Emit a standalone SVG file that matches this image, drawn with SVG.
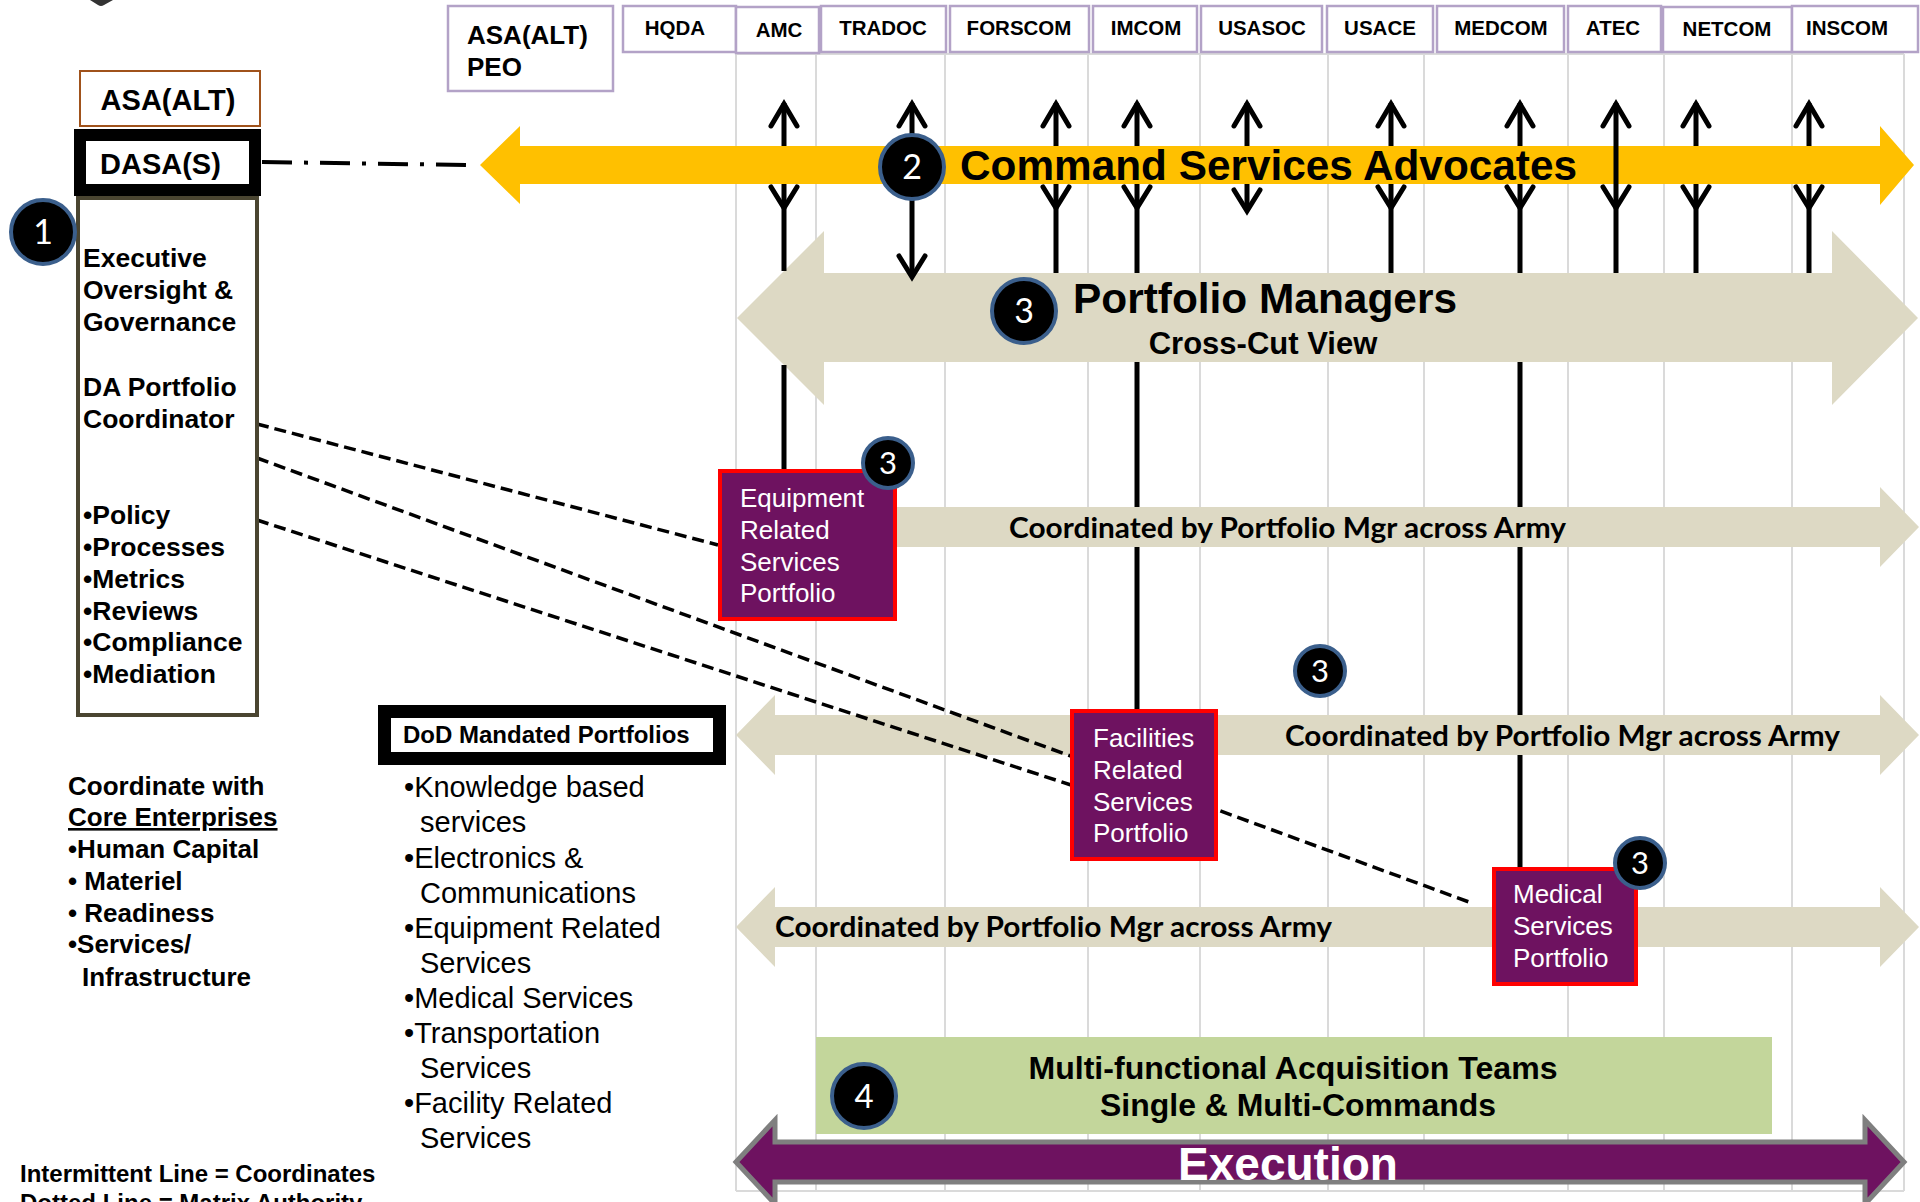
<svg xmlns="http://www.w3.org/2000/svg" width="1920" height="1202" viewBox="0 0 1920 1202">
<style>
.hdr{fill:#fff;stroke:#B3A2C7;stroke-width:2.5}
.hl{font-family:"Liberation Sans",Arial,sans-serif;font-weight:bold;font-size:20.5px;fill:#000;text-anchor:middle}
.b{font-family:"Liberation Sans",Arial,sans-serif;font-weight:bold;fill:#000}
.r{font-family:"Liberation Sans",Arial,sans-serif;fill:#000}
.w{font-family:"Liberation Sans",Arial,sans-serif;fill:#fff;font-size:26px}
.cal{font-family:Lato,"Open Sans",sans-serif;font-weight:bold;font-size:28px;fill:#000}
.grid{stroke:#DADADA;stroke-width:2;fill:none}
.beige{fill:#DDD9C4}
.vl{stroke:#000;stroke-width:5;fill:none}
.vh{stroke:#000;stroke-width:5;fill:none;stroke-linejoin:miter;stroke-linecap:round}
.dash{stroke:#000;stroke-width:3.5;stroke-dasharray:12 6;fill:none}
.pbox{fill:#6E1260;stroke:#FF0000;stroke-width:4}
.cb{fill:#000;stroke:#3B5F8C;stroke-width:4}
.cn{font-family:Lato,"Open Sans",sans-serif;fill:#fff;text-anchor:middle}
</style>
<rect x="0" y="0" width="1920" height="1202" fill="#fff"/>
<path d="M90,0 L113,0 L104,5 Q101,7 98,5 Z" fill="#333"/>

<g id="grid">
<line class="grid" x1="736" y1="54" x2="1904" y2="54"/>
<line class="grid" x1="736" y1="1191" x2="1904" y2="1191"/>
<line class="grid" x1="736" y1="54" x2="736" y2="1191"/>
<line class="grid" x1="816" y1="54" x2="816" y2="1191"/>
<line class="grid" x1="945" y1="54" x2="945" y2="1191"/>
<line class="grid" x1="1088" y1="54" x2="1088" y2="1191"/>
<line class="grid" x1="1200" y1="54" x2="1200" y2="1191"/>
<line class="grid" x1="1328" y1="54" x2="1328" y2="1191"/>
<line class="grid" x1="1424" y1="54" x2="1424" y2="1191"/>
<line class="grid" x1="1568" y1="54" x2="1568" y2="1191"/>
<line class="grid" x1="1664" y1="54" x2="1664" y2="1191"/>
<line class="grid" x1="1792" y1="54" x2="1792" y2="1191"/>
<line class="grid" x1="1904" y1="54" x2="1904" y2="1191"/>
</g>

<g id="headers">
<g id="h-peo"><rect class="hdr" x="448" y="6" width="165" height="85"/><text class="b" x="467" y="44" font-size="26">ASA(ALT)</text><text class="b" x="467" y="76" font-size="26">PEO</text></g>
<g id="h-hqda"><rect class="hdr" x="623" y="6" width="113" height="46"/><text class="hl" x="675" y="35">HQDA</text></g>
<g id="h-amc"><rect class="hdr" x="736" y="7" width="83" height="46"/><text class="hl" x="779" y="37">AMC</text></g>
<g id="h-tradoc"><rect class="hdr" x="821" y="6" width="125" height="46"/><text class="hl" x="883" y="35">TRADOC</text></g>
<g id="h-forscom"><rect class="hdr" x="950" y="6" width="139" height="46"/><text class="hl" x="1019" y="35">FORSCOM</text></g>
<g id="h-imcom"><rect class="hdr" x="1093" y="6" width="104" height="46"/><text class="hl" x="1146" y="35">IMCOM</text></g>
<g id="h-usasoc"><rect class="hdr" x="1201" y="6" width="121" height="46"/><text class="hl" x="1262" y="35">USASOC</text></g>
<g id="h-usace"><rect class="hdr" x="1327" y="6" width="106" height="46"/><text class="hl" x="1380" y="35">USACE</text></g>
<g id="h-medcom"><rect class="hdr" x="1437" y="6" width="127" height="46"/><text class="hl" x="1501" y="35">MEDCOM</text></g>
<g id="h-atec"><rect class="hdr" x="1568" y="6" width="93" height="46"/><text class="hl" x="1613" y="35">ATEC</text></g>
<g id="h-netcom"><rect class="hdr" x="1663" y="7" width="129" height="45"/><text class="hl" x="1727" y="36">NETCOM</text></g>
<g id="h-inscom"><rect class="hdr" x="1792" y="6" width="126" height="46"/><text class="hl" x="1847" y="35">INSCOM</text></g>
</g>

<g id="command-services-advocates">
<path d="M480,165 L520,126 L520,146 L1880,146 L1880,126 L1914,165 L1880,205 L1880,184 L520,184 L520,204 Z" fill="#FFC000"/>
</g>

<g id="portfolio-managers">
<path class="beige" d="M737,318 L824,231 L824,273 L1832,273 L1832,231 L1918,318 L1832,405 L1832,362 L824,362 L824,405 Z"/>
</g>
<g id="coord-row1"><path class="beige" d="M725,507 L1880,507 L1880,487 L1919,527 L1880,567 L1880,547 L725,547 Z"/></g>
<g id="coord-row2"><path class="beige" d="M736,735 L775,695 L775,715 L1880,715 L1880,695 L1919,735 L1880,775 L1880,755 L775,755 L775,775 Z"/></g>
<g id="coord-row3"><path class="beige" d="M736,927 L775,887 L775,907 L1880,907 L1880,887 L1919,927 L1880,967 L1880,947 L775,947 L775,967 Z"/></g>

<g id="connectors">
<line x1="262" y1="162" x2="468" y2="165" stroke="#000" stroke-width="4" stroke-dasharray="30 12 4 12"/>
<line class="dash" x1="257" y1="424" x2="718" y2="545"/>
<line class="dash" x1="257" y1="458" x2="1469" y2="902"/>
<line class="dash" x1="257" y1="520" x2="1071" y2="785"/>
<path class="vl" d="M784,103 V146 M784,184 V271 M784,365 V469"/>
<path class="vh" d="M771,126 L784,104 L797,126 M771,187 L784,208 L797,187"/>
<path class="vl" d="M912,103 V146 M912,184 V276"/>
<path class="vh" d="M899,126 L912,104 L925,126 M899,256 L912,277 L925,256"/>
<path class="vl" d="M1056,103 V146 M1056,184 V273"/>
<path class="vh" d="M1043,126 L1056,104 L1069,126 M1043,187 L1056,208 L1069,187"/>
<path class="vl" d="M1137,103 V146 M1137,184 V273 M1137,362 V507 M1137,547 V709"/>
<path class="vh" d="M1124,126 L1137,104 L1150,126 M1124,187 L1137,208 L1150,187"/>
<path class="vl" d="M1247,103 V146 M1247,184 V211"/>
<path class="vh" d="M1234,126 L1247,104 L1260,126 M1234,190 L1247,211 L1260,190"/>
<path class="vl" d="M1391,103 V146 M1391,184 V273"/>
<path class="vh" d="M1378,126 L1391,104 L1404,126 M1378,187 L1391,208 L1404,187"/>
<path class="vl" d="M1520,103 V146 M1520,184 V273 M1520,362 V507 M1520,547 V715 M1520,755 V867"/>
<path class="vh" d="M1507,126 L1520,104 L1533,126 M1507,187 L1520,208 L1533,187"/>
<path class="vl" d="M1616,103 V273"/>
<path class="vh" d="M1603,126 L1616,104 L1629,126 M1603,187 L1616,208 L1629,187"/>
<path class="vl" d="M1696,103 V146 M1696,184 V273"/>
<path class="vh" d="M1683,126 L1696,104 L1709,126 M1683,187 L1696,208 L1709,187"/>
<path class="vl" d="M1809,103 V146 M1809,184 V273"/>
<path class="vh" d="M1796,126 L1809,104 L1822,126 M1796,187 L1809,208 L1822,187"/>
</g>

<g id="csa-label">
<circle class="cb" cx="912" cy="167" r="32"/><text class="cn" x="912" y="179" font-size="34">2</text>
<text class="b" x="960" y="180" font-size="42" textLength="617" lengthAdjust="spacingAndGlyphs">Command Services Advocates</text>
</g>

<g id="pm-label">
<circle class="cb" cx="1024" cy="311" r="32"/><text class="cn" x="1024" y="323" font-size="34">3</text>
<text class="b" x="1073" y="313" font-size="42" textLength="384" lengthAdjust="spacingAndGlyphs">Portfolio Managers</text>
<text class="b" x="1263" y="354" font-size="31" text-anchor="middle">Cross-Cut View</text>
</g>

<g id="coord-labels">
<text class="cal" x="1009" y="538" textLength="557" lengthAdjust="spacingAndGlyphs">Coordinated by Portfolio Mgr across Army</text>
<text class="cal" x="1285" y="746" textLength="555" lengthAdjust="spacingAndGlyphs">Coordinated by Portfolio Mgr across Army</text>
<text class="cal" x="775" y="937" textLength="557" lengthAdjust="spacingAndGlyphs">Coordinated by Portfolio Mgr across Army</text>
</g>

<g id="asa-alt">
<rect x="80" y="71" width="180" height="55" fill="#fff" stroke="#A0521B" stroke-width="2"/>
<text class="b" x="168" y="110" font-size="29" text-anchor="middle">ASA(ALT)</text>
</g>
<g id="dasa-s">
<rect x="80" y="135" width="175" height="55" fill="#fff" stroke="#000" stroke-width="12"/>
<text class="b" x="100" y="174" font-size="29">DASA(S)</text>
</g>

<g id="exec-oversight">
<rect x="78" y="198" width="179" height="517" fill="#fff" stroke="#4A4531" stroke-width="4"/>
<text class="b" font-size="26.5">
<tspan x="83" y="267">Executive</tspan>
<tspan x="83" y="299">Oversight &amp;</tspan>
<tspan x="83" y="331">Governance</tspan>
<tspan x="83" y="396">DA Portfolio</tspan>
<tspan x="83" y="428">Coordinator</tspan>
<tspan x="83" y="524">•Policy</tspan>
<tspan x="83" y="556">•Processes</tspan>
<tspan x="83" y="588">•Metrics</tspan>
<tspan x="83" y="620">•Reviews</tspan>
<tspan x="83" y="651">•Compliance</tspan>
<tspan x="83" y="683">•Mediation</tspan>
</text>
<circle class="cb" cx="43" cy="232" r="32"/><text class="cn" x="43" y="244" font-size="34">1</text>
</g>

<g id="equipment-portfolio">
<rect class="pbox" x="720" y="471" width="175" height="148"/>
<text class="w"><tspan x="740" y="507">Equipment</tspan><tspan x="740" y="539">Related</tspan><tspan x="740" y="571">Services</tspan><tspan x="740" y="602">Portfolio</tspan></text>
<circle class="cb" cx="888" cy="463" r="25" stroke-width="3.5"/><text class="cn" x="888" y="474" font-size="31">3</text>
</g>

<g id="facilities-portfolio">
<rect class="pbox" x="1072" y="711" width="144" height="148"/>
<text class="w"><tspan x="1093" y="747">Facilities</tspan><tspan x="1093" y="779">Related</tspan><tspan x="1093" y="811">Services</tspan><tspan x="1093" y="842">Portfolio</tspan></text>
</g>

<g id="marker-3">
<circle class="cb" cx="1320" cy="671" r="25" stroke-width="3.5"/><text class="cn" x="1320" y="682" font-size="31">3</text>
</g>

<g id="medical-portfolio">
<rect class="pbox" x="1494" y="869" width="142" height="115"/>
<text class="w"><tspan x="1513" y="903">Medical</tspan><tspan x="1513" y="935">Services</tspan><tspan x="1513" y="967">Portfolio</tspan></text>
<circle class="cb" cx="1640" cy="863" r="25" stroke-width="3.5"/><text class="cn" x="1640" y="874" font-size="31">3</text>
</g>

<g id="dod-mandated">
<rect x="384.5" y="711.5" width="335" height="47" fill="#fff" stroke="#000" stroke-width="13"/>
<text class="b" x="403" y="743" font-size="24">DoD Mandated Portfolios</text>
<text class="r" font-size="29">
<tspan x="404" y="797">•Knowledge based</tspan>
<tspan x="420" y="832">services</tspan>
<tspan x="404" y="868">•Electronics &amp;</tspan>
<tspan x="420" y="903">Communications</tspan>
<tspan x="404" y="938">•Equipment Related</tspan>
<tspan x="420" y="973">Services</tspan>
<tspan x="404" y="1008">•Medical Services</tspan>
<tspan x="404" y="1043">•Transportation</tspan>
<tspan x="420" y="1078">Services</tspan>
<tspan x="404" y="1113">•Facility Related</tspan>
<tspan x="420" y="1148">Services</tspan>
</text>
</g>

<g id="core-enterprises">
<text class="b" font-size="26">
<tspan x="68" y="795">Coordinate with</tspan>
<tspan x="68" y="826" text-decoration="underline">Core Enterprises</tspan>
<tspan x="68" y="858">•Human Capital</tspan>
<tspan x="68" y="890">• Materiel</tspan>
<tspan x="68" y="922">• Readiness</tspan>
<tspan x="68" y="953">•Services/</tspan>
<tspan x="82" y="986">Infrastructure</tspan>
</text>
</g>

<g id="legend">
<text class="b" font-size="24"><tspan x="20" y="1182">Intermittent Line = Coordinates</tspan><tspan x="20" y="1211">Dotted Line =  Matrix Authority</tspan></text>
</g>

<g id="acquisition-teams">
<rect x="816" y="1037" width="956" height="97" fill="#C3D69B"/>
<text class="b" x="1293" y="1079" font-size="31.5" text-anchor="middle" textLength="529" lengthAdjust="spacingAndGlyphs">Multi-functional Acquisition Teams</text>
<text class="b" x="1298" y="1116" font-size="31.5" text-anchor="middle" textLength="396" lengthAdjust="spacingAndGlyphs">Single &amp; Multi-Commands</text>
<circle class="cb" cx="864" cy="1096" r="32"/><text class="cn" x="864" y="1108" font-size="33">4</text>
</g>

<g id="execution">
<path d="M736,1162 L775,1120 L775,1142 L1865,1142 L1865,1120 L1904,1162 L1865,1204 L1865,1182 L775,1182 L775,1204 Z" fill="#6E1260" stroke="#7F7F7F" stroke-width="5" stroke-linejoin="miter"/>
<text class="b" x="1288" y="1180" font-size="46" text-anchor="middle" style="fill:#fff">Execution</text>
</g>
</svg>
